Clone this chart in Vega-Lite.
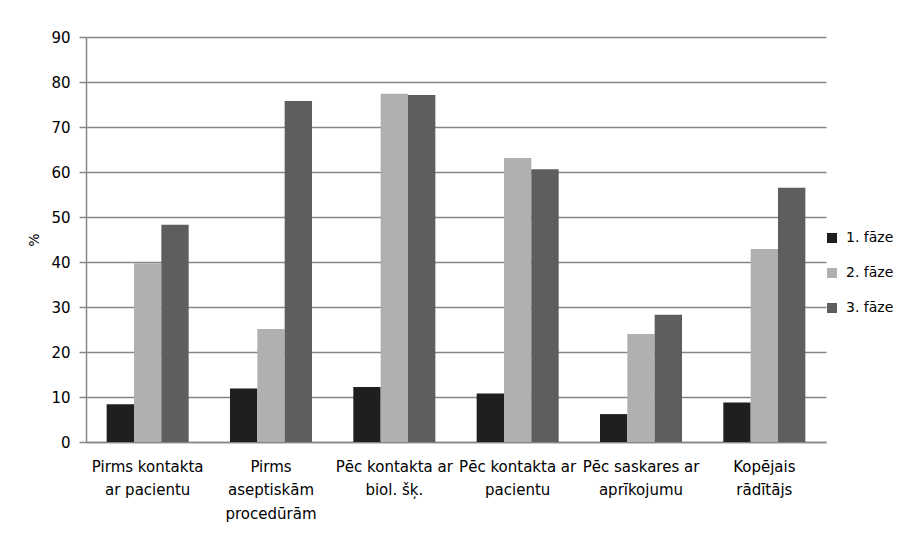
{
  "$schema": "https://vega.github.io/schema/vega-lite/v6.json",
  "width": 740,
  "height": 405,
  "autosize": {"type": "none"},
  "padding": {"left": 86, "top": 37, "right": 80, "bottom": 101},
  "background": "#ffffff",
  "config": {
    "view": {"stroke": null},
    "font": "DejaVu Sans",
    "axis": {
      "labelFont": "DejaVu Sans",
      "labelFontSize": 15,
      "labelColor": "#000000",
      "titleFont": "DejaVu Sans",
      "titleFontSize": 14,
      "titleFontWeight": "normal",
      "titleColor": "#000000",
      "domainColor": "#868686",
      "domainWidth": 1.5,
      "tickColor": "#868686",
      "tickWidth": 1.5,
      "gridColor": "#868686",
      "gridWidth": 1.5
    },
    "legend": {
      "labelFont": "DejaVu Sans",
      "labelFontSize": 14,
      "labelColor": "#000000"
    }
  },
  "data": {
    "values": [
      {"kategorija": "Pirms kontakta|ar pacientu", "fāze": "1. fāze", "procenti": 8.4},
      {"kategorija": "Pirms kontakta|ar pacientu", "fāze": "2. fāze", "procenti": 39.7},
      {"kategorija": "Pirms kontakta|ar pacientu", "fāze": "3. fāze", "procenti": 48.3},
      {"kategorija": "Pirms|aseptiskām|procedūrām", "fāze": "1. fāze", "procenti": 11.9},
      {"kategorija": "Pirms|aseptiskām|procedūrām", "fāze": "2. fāze", "procenti": 25.1},
      {"kategorija": "Pirms|aseptiskām|procedūrām", "fāze": "3. fāze", "procenti": 75.8},
      {"kategorija": "Pēc kontakta ar|biol. šķ.", "fāze": "1. fāze", "procenti": 12.2},
      {"kategorija": "Pēc kontakta ar|biol. šķ.", "fāze": "2. fāze", "procenti": 77.4},
      {"kategorija": "Pēc kontakta ar|biol. šķ.", "fāze": "3. fāze", "procenti": 77.1},
      {"kategorija": "Pēc kontakta ar|pacientu", "fāze": "1. fāze", "procenti": 10.8},
      {"kategorija": "Pēc kontakta ar|pacientu", "fāze": "2. fāze", "procenti": 63.1},
      {"kategorija": "Pēc kontakta ar|pacientu", "fāze": "3. fāze", "procenti": 60.6},
      {"kategorija": "Pēc saskares ar|aprīkojumu", "fāze": "1. fāze", "procenti": 6.2},
      {"kategorija": "Pēc saskares ar|aprīkojumu", "fāze": "2. fāze", "procenti": 24.0},
      {"kategorija": "Pēc saskares ar|aprīkojumu", "fāze": "3. fāze", "procenti": 28.3},
      {"kategorija": "Kopējais|rādītājs", "fāze": "1. fāze", "procenti": 8.8},
      {"kategorija": "Kopējais|rādītājs", "fāze": "2. fāze", "procenti": 42.9},
      {"kategorija": "Kopējais|rādītājs", "fāze": "3. fāze", "procenti": 56.5}
    ]
  },
  "mark": {"type": "bar"},
  "encoding": {
    "x": {
      "field": "kategorija",
      "type": "nominal",
      "sort": null,
      "scale": {"paddingInner": 0.335, "paddingOuter": 0.1675},
      "axis": {
        "title": null,
        "labelAngle": 0,
        "ticks": false,
        "labelPadding": 17,
        "labelBaseline": "top",
        "labelLineHeight": 23.5,
        "labelLimit": 0,
        "labelExpr": "split(datum.label, '|')"
      }
    },
    "xOffset": {
      "field": "fāze",
      "type": "nominal",
      "scale": {"paddingInner": 0, "paddingOuter": 0}
    },
    "y": {
      "field": "procenti",
      "type": "quantitative",
      "scale": {"domain": [0, 90], "nice": false},
      "axis": {
        "title": "%",
        "values": [0, 10, 20, 30, 40, 50, 60, 70, 80, 90],
        "tickSize": 7,
        "labelPadding": 9,
        "titlePadding": 9
      }
    },
    "color": {
      "field": "fāze",
      "type": "nominal",
      "scale": {
        "domain": ["1. fāze", "2. fāze", "3. fāze"],
        "range": ["#1f1f1f", "#b0b0b0", "#5e5e5e"]
      },
      "legend": {
        "title": null,
        "orient": "none",
        "legendX": 739,
        "legendY": 194,
        "padding": 0,
        "symbolType": "square",
        "symbolSize": 100,
        "symbolStrokeWidth": 0,
        "labelOffset": 7,
        "rowPadding": 21
      }
    }
  }
}
